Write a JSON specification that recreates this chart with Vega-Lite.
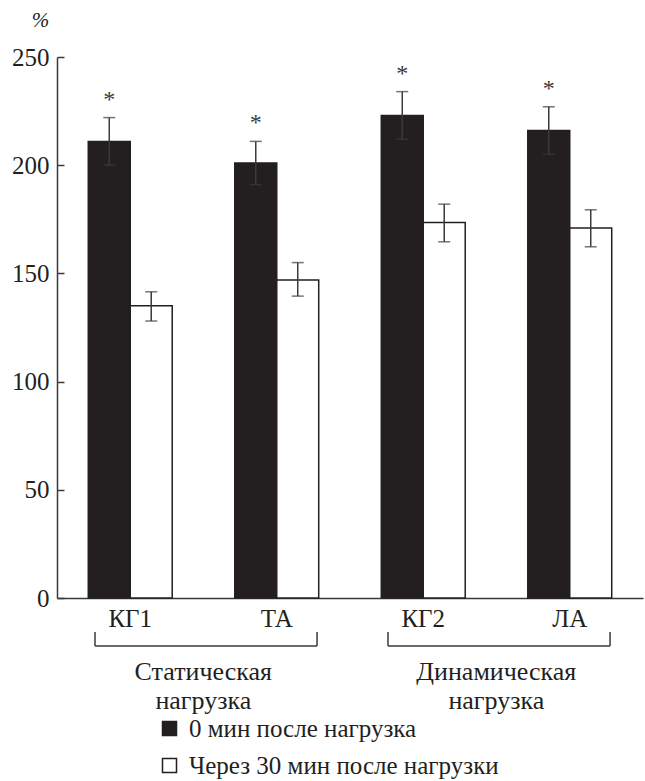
{
  "$schema": "https://vega.github.io/schema/vega-lite/v6.json",
  "width": 586,
  "height": 541,
  "autosize": {"type": "none"},
  "padding": {"left": 57, "top": 57, "right": 2, "bottom": 183},
  "background": "white",
  "config": {
    "view": {"stroke": null},
    "font": "Liberation Serif, DejaVu Serif, serif",
    "text": {"font": "Liberation Serif, DejaVu Serif, serif"}
  },
  "datasets": {
    "bars": [
      {"cat": "КГ1", "series": "0 мин после нагрузка", "value": 211, "lo": 200, "hi": 222, "sig": "*"},
      {"cat": "КГ1", "series": "Через 30 мин после нагрузки", "value": 135, "lo": 128, "hi": 141.5},
      {"cat": "ТА", "series": "0 мин после нагрузка", "value": 201, "lo": 191, "hi": 211, "sig": "*"},
      {"cat": "ТА", "series": "Через 30 мин после нагрузки", "value": 147, "lo": 139.5, "hi": 155},
      {"cat": "КГ2", "series": "0 мин после нагрузка", "value": 223, "lo": 212, "hi": 234, "sig": "*"},
      {"cat": "КГ2", "series": "Через 30 мин после нагрузки", "value": 173.5, "lo": 164.6, "hi": 182},
      {"cat": "ЛА", "series": "0 мин после нагрузка", "value": 216, "lo": 205, "hi": 227, "sig": "*"},
      {"cat": "ЛА", "series": "Через 30 мин после нагрузки", "value": 171, "lo": 162.3, "hi": 179.4}
    ],
    "groups": [
      {"from": "КГ1", "to": "ТА", "label": ["Статическая", "нагрузка"]},
      {"from": "КГ2", "to": "ЛА", "label": ["Динамическая", "нагрузка"]}
    ]
  },
  "layer": [
    {
      "data": {"name": "bars"},
      "mark": {"type": "bar", "stroke": "#231f20", "strokeWidth": 1.5},
      "encoding": {
        "x": {
          "field": "cat",
          "type": "nominal",
          "scale": {"domain": ["КГ1", "ТА", "КГ2", "ЛА"], "paddingInner": 0.427, "paddingOuter": 0.2135},
          "axis": {
            "title": null,
            "ticks": false,
            "labelAngle": 0,
            "labelPadding": 8,
            "labelFontSize": 25,
            "labelFont": "Liberation Serif, DejaVu Serif, serif",
            "labelColor": "#231f20",
            "domainColor": "#3a3a3a",
            "domainWidth": 1.5
          }
        },
        "xOffset": {"field": "series", "sort": ["0 мин после нагрузка", "Через 30 мин после нагрузки"]},
        "y": {
          "field": "value",
          "type": "quantitative",
          "scale": {"domain": [0, 250], "nice": false},
          "axis": {
            "values": [0, 50, 100, 150, 200, 250],
            "grid": false,
            "tickSize": -7,
            "tickWidth": 1.5,
            "tickColor": "#3a3a3a",
            "domainColor": "#3a3a3a",
            "domainWidth": 1.5,
            "labelPadding": 15,
            "labelFontSize": 25,
            "labelFont": "Liberation Serif, DejaVu Serif, serif",
            "labelColor": "#231f20",
            "title": "%",
            "titleAngle": 0,
            "titleX": -17,
            "titleY": -37,
            "titleAlign": "center",
            "titleBaseline": "middle",
            "titleFont": "Liberation Serif, DejaVu Serif, serif",
            "titleFontStyle": "italic",
            "titleFontWeight": "normal",
            "titleFontSize": 21,
            "titleColor": "#231f20"
          }
        },
        "fill": {
          "field": "series",
          "type": "nominal",
          "scale": {"domain": ["0 мин после нагрузка", "Через 30 мин после нагрузки"], "range": ["#231f20", "#ffffff"]},
          "legend": {
            "title": null,
            "orient": "none",
            "legendX": 100,
            "legendY": 659,
            "direction": "vertical",
            "symbolType": "square",
            "symbolSize": 196,
            "symbolStrokeColor": "#231f20",
            "symbolStrokeWidth": 1.5,
            "labelFontSize": 25,
            "labelFont": "Liberation Serif, DejaVu Serif, serif",
            "labelColor": "#231f20",
            "labelOffset": 7,
            "rowPadding": 11,
            "labelLimit": 600
          }
        }
      }
    },
    {
      "data": {"name": "bars"},
      "mark": {"type": "rule", "color": "#3a3a3a", "strokeWidth": 1.5},
      "encoding": {
        "x": {"field": "cat", "type": "nominal"},
        "xOffset": {"field": "series", "sort": ["0 мин после нагрузка", "Через 30 мин после нагрузки"]},
        "y": {"field": "lo", "type": "quantitative"},
        "y2": {"field": "hi"}
      }
    },
    {
      "data": {"name": "bars"},
      "mark": {"type": "tick", "orient": "horizontal", "size": 12, "thickness": 1.5, "color": "#3a3a3a"},
      "encoding": {
        "x": {"field": "cat", "type": "nominal"},
        "xOffset": {"field": "series", "sort": ["0 мин после нагрузка", "Через 30 мин после нагрузки"]},
        "y": {"field": "hi", "type": "quantitative"}
      }
    },
    {
      "data": {"name": "bars"},
      "mark": {"type": "tick", "orient": "horizontal", "size": 12, "thickness": 1.5, "color": "#3a3a3a"},
      "encoding": {
        "x": {"field": "cat", "type": "nominal"},
        "xOffset": {"field": "series", "sort": ["0 мин после нагрузка", "Через 30 мин после нагрузки"]},
        "y": {"field": "lo", "type": "quantitative"}
      }
    },
    {
      "data": {"name": "bars"},
      "transform": [{"filter": "isValid(datum.sig)"}],
      "mark": {"type": "text", "fontSize": 24, "dy": -11, "baseline": "alphabetic", "align": "center", "color": "#3a3a3a", "font": "Liberation Serif, DejaVu Serif, serif"},
      "encoding": {
        "x": {"field": "cat", "type": "nominal"},
        "xOffset": {"field": "series", "sort": ["0 мин после нагрузка", "Через 30 мин после нагрузки"]},
        "y": {"field": "hi", "type": "quantitative"},
        "text": {"field": "sig"}
      }
    },
    {
      "data": {"name": "groups"},
      "mark": {"type": "rule", "color": "#3a3a3a", "strokeWidth": 1.5},
      "encoding": {
        "x": {"field": "from", "type": "nominal", "bandPosition": 0.08},
        "x2": {"field": "to", "bandPosition": 0.98},
        "y": {"datum": -22.2}
      }
    },
    {
      "data": {"name": "groups"},
      "mark": {"type": "rule", "color": "#3a3a3a", "strokeWidth": 1.5},
      "encoding": {
        "x": {"field": "from", "type": "nominal", "bandPosition": 0.08},
        "y": {"datum": -22.2},
        "y2": {"datum": -15.7}
      }
    },
    {
      "data": {"name": "groups"},
      "mark": {"type": "rule", "color": "#3a3a3a", "strokeWidth": 1.5},
      "encoding": {
        "x": {"field": "to", "type": "nominal", "bandPosition": 0.98},
        "y": {"datum": -22.2},
        "y2": {"datum": -15.7}
      }
    },
    {
      "data": {"name": "groups"},
      "mark": {"type": "text", "fontSize": 26, "baseline": "alphabetic", "align": "center", "lineHeight": 29, "color": "#231f20", "font": "Liberation Serif, DejaVu Serif, serif"},
      "encoding": {
        "x": {"field": "from", "type": "nominal", "bandPosition": 1.37},
        "y": {"datum": -37.9},
        "text": {"field": "label"}
      }
    }
  ]
}
